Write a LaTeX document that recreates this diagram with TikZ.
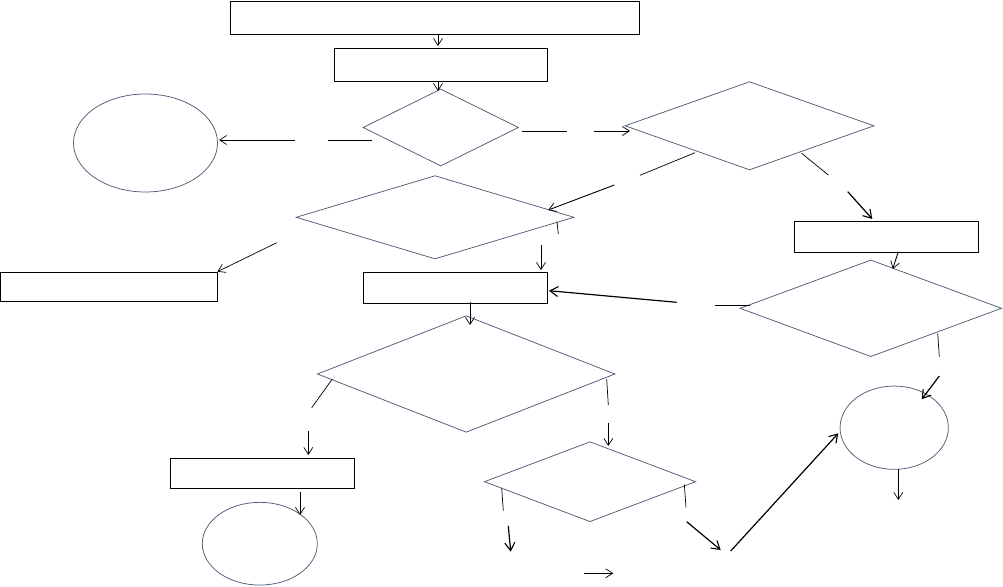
\documentclass[tikz,border=0pt]{standalone}
\usetikzlibrary{shapes.geometric,arrows.meta}
\definecolor{shapeblue}{RGB}{80,92,122}
\tikzset{
  box/.style={draw=black,line width=0.9pt,rectangle,inner sep=0pt,minimum width=#1},
  dia/.style={draw=shapeblue,line width=0.75pt,diamond,inner sep=0pt},
  oval/.style={draw=shapeblue,line width=0.75pt,ellipse,inner sep=0pt},
  seg/.style={draw=black,line width=0.7pt},
  arr/.style={draw=black,line width=0.7pt,-{Straight Barb[length=7pt,width=9pt,line width=0.7pt]}},
  tarr/.style={draw=black,line width=1.2pt,-{Straight Barb[length=8pt,width=10pt,line width=1.1pt]}}
}
\begin{document}
\begin{tikzpicture}[x=1pt,y=-1pt]
\useasboundingbox (0,0) rectangle (1003,586);
% boxes
\node[box=409pt,minimum height=33pt] (R1) at (435,17.5) {};
\node[box=213pt,minimum height=33pt] (R2) at (440.5,64.5) {};
\node[box=183.7pt,minimum height=30.6pt] (R3) at (455.5,288) {};
\node[box=217pt,minimum height=28.7pt] (R4) at (109.4,286.7) {};
\node[box=184pt,minimum height=31.3pt] (R5) at (886.3,236.7) {};
\node[box=183.3pt,minimum height=30pt] (R6) at (262.3,473.3) {};
% diamonds
\node[dia,minimum width=155.5pt,minimum height=77pt] (D1) at (440.75,127.5) {};
\node[dia,minimum width=249pt,minimum height=88.3pt] (D2) at (749.5,125.8) {};
\node[dia,minimum width=278pt,minimum height=83.3pt] (D3) at (435,217.3) {};
\node[dia,minimum width=261.7pt,minimum height=96.7pt] (D4) at (870.8,308.3) {};
\node[dia,minimum width=297.7pt,minimum height=116.6pt] (D5) at (466.2,374) {};
\node[dia,minimum width=211.4pt,minimum height=80pt] (D6) at (590,481.7) {};
% ellipses
\node[oval,minimum width=144pt,minimum height=98pt] (E1) at (145.5,143) {};
\node[oval,minimum width=108.3pt,minimum height=83.3pt] (E2) at (894.2,427.7) {};
\node[oval,minimum width=115pt,minimum height=82.7pt] (E3) at (259.8,543.7) {};
% connector end points
\coordinate (c1a) at (438,34); \coordinate (c1b) at (438,46);
\coordinate (c2a) at (438,81); \coordinate (c2b) at (438,91);
\coordinate (c3a) at (372,140); \coordinate (c3b) at (328,140);
\coordinate (c3c) at (295,140); \coordinate (c3d) at (219,140);
\coordinate (c4a) at (521.7,131); \coordinate (c4b) at (566.5,131);
\coordinate (c4c) at (594,131); \coordinate (c4d) at (630,131);
\coordinate (c5a) at (695,152.7); \coordinate (c5b) at (640,175.3);
\coordinate (c5c) at (614.3,185); \coordinate (c5d) at (548.3,210);
\coordinate (c6a) at (801.7,153.3); \coordinate (c6b) at (828.3,175);
\coordinate (c6c) at (847.7,191.7); \coordinate (c6d) at (872.3,219);
\coordinate (c7a) at (557,221.7); \coordinate (c7b) at (558.3,234);
\coordinate (c7c) at (541,245); \coordinate (c7d) at (541,270);
\coordinate (c8a) at (276.7,242.7); \coordinate (c8b) at (217.4,271.7);
\coordinate (c9a) at (898.3,251.7); \coordinate (c9b) at (892.7,269);
\coordinate (c10a) at (750,305.3); \coordinate (c10b) at (715,305.3);
\coordinate (c10c) at (676.7,302.3); \coordinate (c10d) at (549,290.7);
\coordinate (c11a) at (937.7,333.3); \coordinate (c11b) at (939.3,356.7);
\coordinate (c11c) at (939.3,376); \coordinate (c11d) at (921.7,399.3);
\coordinate (c12a) at (898.3,469.3); \coordinate (c12b) at (898.3,500);
\coordinate (c13a) at (470,302); \coordinate (c13b) at (470,325);
\coordinate (c14a) at (332.3,379); \coordinate (c14b) at (311.7,407.7);
\coordinate (c14c) at (308.3,431); \coordinate (c14d) at (308.3,455);
\coordinate (c15a) at (300,491.7); \coordinate (c15b) at (300,515);
\coordinate (c16a) at (606.7,379.3); \coordinate (c16b) at (608.3,405);
\coordinate (c16c) at (608.3,422.7); \coordinate (c16d) at (608.3,446);
\coordinate (c17a) at (501.7,488.3); \coordinate (c17b) at (503.3,510.7);
\coordinate (c17c) at (508.3,526); \coordinate (c17d) at (510.7,551.7);
\coordinate (c18a) at (684.3,484.3); \coordinate (c18b) at (686,507.3);
\coordinate (c18c) at (686.7,521.7); \coordinate (c18d) at (720.7,550);
\coordinate (c19a) at (584.3,573.3); \coordinate (c19b) at (613.3,573.3);
\coordinate (c20a) at (730.7,551); \coordinate (c20b) at (838.3,433.3);
% connectors
\draw[arr] (c1a) -- (c1b);
\draw[arr] (c2a) -- (c2b);
\draw[seg] (c3a) -- (c3b); \draw[arr] (c3c) -- (c3d);
\draw[seg] (c4a) -- (c4b); \draw[arr] (c4c) -- (c4d);
\draw[seg] (c5a) -- (c5b); \draw[arr,line width=0.9pt] (c5c) -- (c5d);
\draw[seg] (c6a) -- (c6b); \draw[tarr] (c6c) -- (c6d);
\draw[seg] (c7a) -- (c7b); \draw[arr] (c7c) -- (c7d);
\draw[arr] (c8a) -- (c8b);
\draw[arr,line width=0.9pt] (c9a) -- (c9b);
\draw[seg] (c10a) -- (c10b); \draw[tarr] (c10c) -- (c10d);
\draw[seg] (c11a) -- (c11b); \draw[tarr] (c11c) -- (c11d);
\draw[arr] (c12a) -- (c12b);
\draw[arr] (c13a) -- (c13b);
\draw[seg] (c14a) -- (c14b); \draw[arr] (c14c) -- (c14d);
\draw[arr] (c15a) -- (c15b);
\draw[seg] (c16a) -- (c16b); \draw[arr] (c16c) -- (c16d);
\draw[seg] (c17a) -- (c17b); \draw[tarr] (c17c) -- (c17d);
\draw[seg] (c18a) -- (c18b); \draw[tarr] (c18c) -- (c18d);
\draw[arr,line width=0.9pt] (c19a) -- (c19b);
\draw[tarr] (c20a) -- (c20b);
\end{tikzpicture}
\end{document}
